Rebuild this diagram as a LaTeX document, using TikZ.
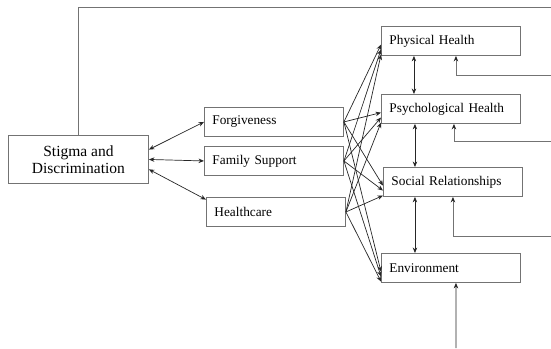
\documentclass[tikz,border=0pt]{standalone}
\usepackage{fontspec}
\setmainfont{Liberation Serif}
\usetikzlibrary{arrows.meta}

\begin{document}
\begin{tikzpicture}[
    x=1pt, y=-1pt,
    box/.style={rectangle, draw=black!55, line width=0.9pt, anchor=north west, minimum height=29pt, text width=123pt, inner xsep=8pt, align=left, font=\fontsize{13.3}{15}\selectfont},
    mainbox/.style={rectangle, draw=black!55, line width=0.9pt, anchor=north west, minimum width=140pt, minimum height=48pt, align=center, font=\fontsize{15.5}{17}\selectfont},
    arr/.style={-{Stealth[length=5.5pt,width=4.5pt,color=black!85]}, line width=0.7pt, draw=black!85},
    twoway/.style={{Stealth[length=5.5pt,width=4.5pt]}-{Stealth[length=5.5pt,width=4.5pt]}, line width=0.7pt, draw=black!85},
    fb/.style={draw=black!55, line width=0.9pt}
]
\useasboundingbox (0,0) rectangle (551,348);

% Stigma box
\node[mainbox] (stigma) at (8,135) {Stigma and\\Discrimination};

% Mediators
\node[box] (forg) at (204,107) {Forgiveness};
\node[box] (fam) at (204,146) {Family Support};
\node[box] (care) at (206,197) {Healthcare};

% Outcomes
\node[box] (phys) at (381,26) {Physical Health};
\node[box] (psych) at (381,94) {Psychological Health};
\node[box] (soc) at (383,167) {Social Relationships};
\node[box] (env) at (381,253) {Environment};

% Stigma to mediators
\draw[twoway] (stigma.8) -- (forg.west);
\draw[twoway] (stigma.east) -- (fam.west);
\draw[twoway] (stigma.-8) -- (care.170);

% Mediators to outcomes
\foreach \src/\ang in {forg/183, fam/187, care/191}{
  \foreach \dst in {phys, psych, soc, env}{
    \draw[arr] (\src.east) -- (\dst.\ang);
  }
}

% Between outcomes
\draw[twoway] ([xshift=-37pt]phys.south) -- ([xshift=-37pt]psych.north);
\draw[twoway] ([xshift=-36pt]psych.south) -- ([xshift=-38pt]soc.north);
\draw[twoway] ([xshift=-38pt]soc.south) -- ([xshift=-36pt]env.north);

% Feedback lines
\coordinate (topR) at (551,7);
\coordinate (fbA) at (551,75);
\coordinate (fbB) at (551,141);
\coordinate (fbC) at (551,236);
\coordinate (fbD) at (456,348);
\draw[fb] (stigma.north) |- (topR);
\draw[arr, fb] (fbA) -| ([xshift=5pt]phys.south);
\draw[arr, fb] (fbB) -| ([xshift=3pt]psych.south);
\draw[arr, fb] (fbC) -| (soc.south);
\draw[arr] (fbD) -- ([xshift=5pt]env.south);

\end{tikzpicture}
\end{document}
